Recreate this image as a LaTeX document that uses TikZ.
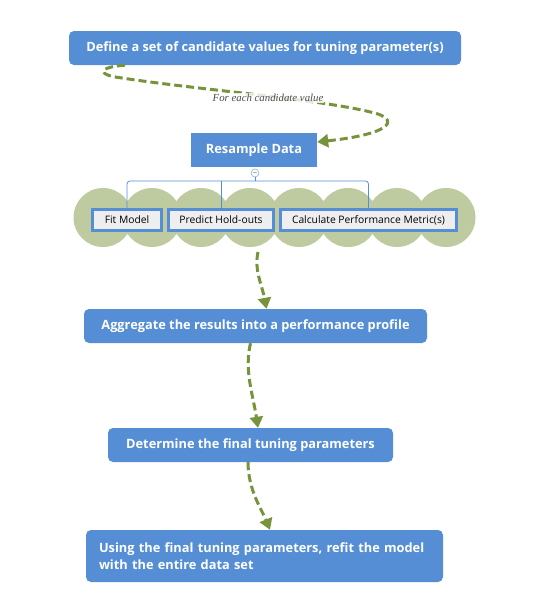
\documentclass[tikz,border=0pt]{standalone}
\usepackage{fontspec}
\setmainfont{Open Sans}
\newfontfamily\notefont{Liberation Serif}
\usetikzlibrary{arrows.meta}
\definecolor{boxblue}{RGB}{85,142,213}
\definecolor{flowgreen}{RGB}{119,147,60}
\definecolor{cloudgreen}{RGB}{190,203,160}
\definecolor{cellgray}{RGB}{238,238,238}
\begin{document}
\begin{tikzpicture}[x=1pt,y=-1pt,
    stepbox/.style={fill=boxblue,text=white,rounded corners=5pt,inner sep=0pt,
      font=\fontsize{12.8}{16.5}\selectfont\bfseries},
    cellbox/.style={fill=cellgray,draw=boxblue,line width=3pt,inner sep=0pt,
      minimum height=21pt,font=\fontsize{10.3}{12}\selectfont},
    flow/.style={draw=flowgreen,line width=3pt,dash pattern=on 8pt off 4pt,
      -{Triangle[length=11pt,width=13pt]}},
    bracket/.style={draw=boxblue,line width=0.8pt}]
      \useasboundingbox (0,0) rectangle (541,597);
      \foreach \i in {0,...,7} {
        \fill[cloudgreen] (103+\i*49,217.5) circle (29.5);
      }
      \node[stepbox,minimum width=392pt,minimum height=34pt] (define) at (265,48)
        {Define a set of candidate values for tuning parameter(s)};
      \node[stepbox,rounded corners=0pt,minimum width=126pt,minimum height=34pt] (resample) at (254,150)
        {Resample Data};
      \node[circle,draw=boxblue!70,fill=white,line width=0.6pt,inner sep=0pt,minimum size=8pt,
        font=\fontsize{6}{6}\selectfont] (toggle) at (255,173) {$-$};
      \node[cellbox,minimum width=69pt] (fit) at (127,220) {Fit Model};
      \node[cellbox,minimum width=105pt] (predict) at (221,220) {Predict Hold-outs};
      \node[cellbox,minimum width=176pt] (metric) at (368.5,220) {Calculate Performance Metric(s)};
      \coordinate (hub) at (255,181);
      \coordinate (cloudbot) at (258,252);
      \draw[bracket] (toggle.south) -- (hub);
      \draw[bracket,rounded corners=3pt] (fit.north) |- (hub) -| (metric.north);
      \draw[bracket] (predict.north) -- (predict.north |- hub);
      \node[stepbox,minimum width=343pt,minimum height=34pt] (aggregate) at (255.5,326)
        {Aggregate the results into a performance profile};
      \node[stepbox,minimum width=285pt,minimum height=34pt] (determine) at (250.5,445)
        {Determine the final tuning parameters};
      \node[stepbox,minimum width=357pt,minimum height=52pt,text width=331pt,align=left] (refit) at (264.5,556)
        {Using the final tuning parameters, refit the model\\with the entire data set};
      \draw[flow] ([xshift=-140pt]define.south) .. controls (98,67) and (96,75) .. (122,78)
        .. controls (200,90) and (330,100) .. (378,114)
        .. controls (398,121) and (390,134) .. ([yshift=8pt]resample.east);
      \node[fill=white,fill opacity=0.8,text opacity=1,text=black!70,inner sep=1pt,
        font=\notefont\itshape\fontsize{10.8}{12}\selectfont] (note) at (268,98) {For each candidate value};
      \draw[flow] (cloudbot) .. controls (254,270) and (262,285) .. ([xshift=11pt]aggregate.north);
      \draw[flow] ([xshift=-5pt]aggregate.south) .. controls (244,370) and (253,395) .. ([xshift=7.5pt]determine.north);
      \draw[flow] ([xshift=-2.5pt]determine.south) .. controls (248,490) and (262,510) .. ([xshift=5.5pt]refit.north);
    \end{tikzpicture}
\end{document}
